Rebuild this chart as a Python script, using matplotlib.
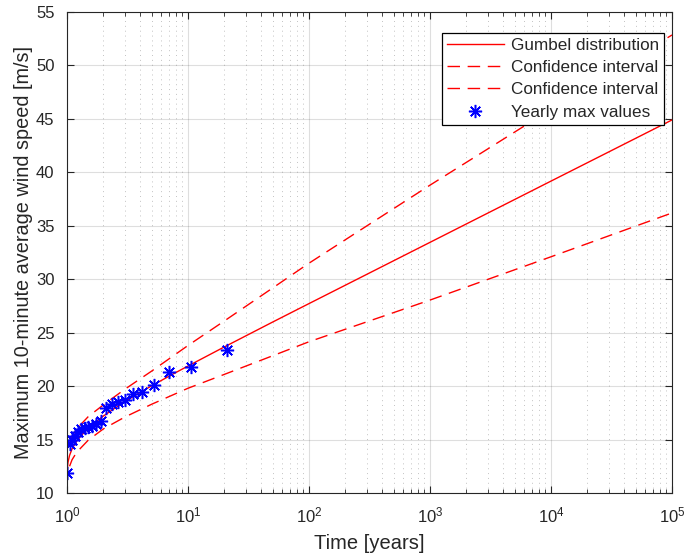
import math
import matplotlib
matplotlib.use("Agg")
import matplotlib.pyplot as plt
from matplotlib.ticker import LogLocator, FixedLocator, NullFormatter, FuncFormatter

plt.rcParams['font.family'] = ['Liberation Sans', 'DejaVu Sans']
plt.rcParams['mathtext.fontset'] = 'custom'
plt.rcParams['mathtext.rm'] = 'Liberation Sans'
plt.rcParams['mathtext.it'] = 'Liberation Sans'

# Yearly maxima (return period, wind speed)
obs_T = [21/21, 21/20, 21/19, 21/18, 21/17, 21/16, 21/15, 21/14, 21/13, 21/12,
         21/11, 21/10, 21/9, 21/8, 21/7, 21/6, 21/5, 21/4, 21/3, 21/2, 21/1]
obs_v = [11.9, 14.55, 14.96, 15.3, 15.74, 15.96, 16.05, 16.15, 16.3, 16.45,
         16.7, 17.92, 18.33, 18.5, 18.7, 19.23, 19.48, 20.1, 21.35, 21.81, 23.38]

# Gumbel fit curve
fit_T = [1.000001, 1.0001, 1.001, 1.01, 1.02, 1.05, 1.1, 1.2, 1.3, 1.5, 1.7, 2,
         2.5, 3, 4, 5, 7, 10, 20, 50, 100, 1000, 1e4, 1e5]
fit_v = [9.76, 10.77, 11.49, 12.49, 12.89, 13.52, 14.12, 14.84, 15.34, 16.06, 16.59,
         17.20, 17.96, 18.53, 19.39, 20.02, 20.94, 21.88, 23.67, 25.99, 27.72,
         33.45, 39.18, 44.90]

# Confidence interval bounds
ci_T = [1.05, 1.1, 1.2, 1.5, 2, 3, 5, 10, 20, 100, 1000, 1e4, 1e5]
ci_upper = [14.7, 15.3, 16.0, 17.15, 18.25, 19.7, 21.4, 23.8, 26.1, 31.5, 38.8, 45.9, 52.85]
ci_lower = [12.5, 13.1, 13.8, 14.95, 16.0, 17.1, 18.3, 19.8, 21.1, 24.15, 28.05, 32.1, 36.2]

xlabel = 'Time [years]'
ylabel = 'Maximum 10-minute average wind speed [m/s]'
legend_labels = ['Gumbel distribution', 'Confidence interval', 'Confidence interval',
                 'Yearly max values']

fig = plt.figure(figsize=(6.87, 5.55), dpi=100)
ax = fig.add_axes([67/687, 1-493/555, (672-67)/687, (493-12)/555])

red = '#ff0000'
ax.plot(fit_T, fit_v, color=red, lw=1.0, label=legend_labels[0])
ax.plot(ci_T, ci_upper, color=red, lw=1.0, dashes=(9, 5.5), label=legend_labels[1])
ax.plot(ci_T, ci_lower, color=red, lw=1.0, dashes=(9, 5.5), label=legend_labels[2])
ax.plot(obs_T, obs_v, linestyle='none', marker=(8, 2, 0), markersize=9.5,
        markeredgewidth=1.1, color='#0000ff', label=legend_labels[3])

ax.set_xscale('log')
ax.set_xlim(1, 1e5)
ax.set_ylim(10, 55)
ax.yaxis.set_major_locator(FixedLocator(list(range(10, 56, 5))))
ax.xaxis.set_major_locator(LogLocator(base=10, numticks=10))
ax.xaxis.set_minor_locator(LogLocator(base=10, subs=range(2, 10), numticks=100))
ax.xaxis.set_minor_formatter(NullFormatter())
ax.xaxis.set_major_formatter(FuncFormatter(lambda v, p: r'$10^{%d}$' % round(math.log10(v))))

gc = '#262626'
ax.grid(True, which='major', axis='both', color=gc, alpha=0.15, lw=0.8, linestyle='-')
ax.grid(True, which='minor', axis='x', color=gc, alpha=0.28, lw=0.7, linestyle=(0, (1, 4)))

for s in ax.spines.values():
    s.set_color(gc)
    s.set_linewidth(0.8)
ax.tick_params(which='both', direction='in', top=True, right=True, colors=gc,
               labelsize=12, labelcolor=gc)
ax.tick_params(which='major', length=5)
ax.tick_params(which='minor', length=3)
ax.tick_params(axis='x', pad=9)
ax.tick_params(axis='y', pad=9)

ax.set_xlabel(xlabel, fontsize=14.5, color=gc, labelpad=6)
ax.set_ylabel(ylabel, fontsize=14.3, color=gc, labelpad=2)

leg = ax.legend(loc='upper right', bbox_to_anchor=((664-67)/605, (493-33)/481),
                borderaxespad=0, fontsize=12.3, frameon=True, fancybox=False,
                edgecolor='black', handlelength=3.35, handletextpad=0.4,
                labelspacing=0.42, borderpad=0.3, framealpha=1)
leg.get_frame().set_linewidth(0.9)
for t in leg.get_texts():
    t.set_color(gc)

fig.savefig('out.png', dpi=100)
